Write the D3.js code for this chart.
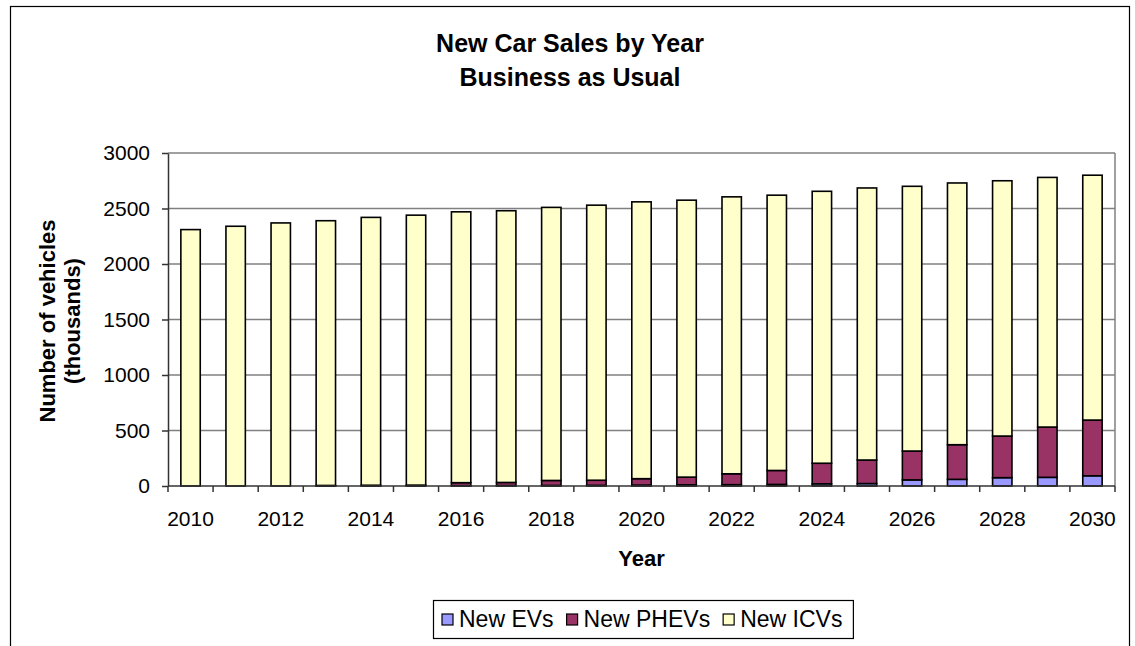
<!DOCTYPE html>
<html>
<head>
<meta charset="utf-8">
<script src="https://cdn.jsdelivr.net/npm/d3@7"></script>
<style>
  html, body { margin: 0; padding: 0; background: #fff; }
  svg { display: block; font-family: Arial, "Liberation Sans", sans-serif; }
</style>
</head>
<body>
<svg id="chart" width="1135" height="646"></svg>
<script>
// New car sales (thousands) by year, business-as-usual scenario
const years = [2010, 2011, 2012, 2013, 2014, 2015, 2016, 2017, 2018, 2019, 2020,
               2021, 2022, 2023, 2024, 2025, 2026, 2027, 2028, 2029, 2030];
const newEVs   = [0, 0, 0, 1, 2, 2, 3, 4, 5, 6, 8, 10, 12, 14, 20, 22, 55, 60, 75, 78, 92];
const newPHEVs = [0, 0, 0, 4, 5, 6, 27, 28, 45, 46, 58, 70, 98, 126, 185, 212, 260, 312, 375, 453, 502];
const newICVs  = [2310, 2340, 2370, 2385, 2413, 2432, 2440, 2448, 2460, 2478, 2494,
                  2495, 2495, 2480, 2450, 2451, 2385, 2358, 2300, 2249, 2206];
const seriesNames = ["New EVs", "New PHEVs", "New ICVs"];
const seriesColors = ["#9999FF", "#993366", "#FFFFCC"];
const yTicks = [0, 500, 1000, 1500, 2000, 2500, 3000];
const xLabelYears = [2010, 2012, 2014, 2016, 2018, 2020, 2022, 2024, 2026, 2028, 2030];

const svg = d3.select("#chart");
const plot = { left: 168, right: 1115, top: 153, bottom: 486 };

// Outer chart frame
svg.append("rect")
  .attr("x", 10.5).attr("y", 6.5)
  .attr("width", 1119).attr("height", 700)
  .attr("fill", "none").attr("stroke", "#000").attr("stroke-width", 1.2);

// Scales
const x = d3.scaleBand()
  .domain(years)
  .range([plot.left, plot.right])
  .paddingInner(0.57)
  .paddingOuter(0.285);
const y = d3.scaleLinear().domain([0, 3000]).range([plot.bottom, plot.top]);

// Gridlines
svg.append("g")
  .selectAll("line")
  .data(yTicks.filter(v => v > 0))
  .join("line")
  .attr("x1", plot.left).attr("x2", plot.right)
  .attr("y1", d => y(d)).attr("y2", d => y(d))
  .attr("stroke", "#808080").attr("stroke-width", 1.5);

// Plot-area right edge
svg.append("line")
  .attr("x1", plot.right).attr("x2", plot.right)
  .attr("y1", plot.top).attr("y2", plot.bottom)
  .attr("stroke", "#808080").attr("stroke-width", 1.5);

// Stacked bars
const rows = years.map((yr, i) => ({
  year: yr,
  "New EVs": newEVs[i],
  "New PHEVs": newPHEVs[i],
  "New ICVs": newICVs[i]
}));
const stacked = d3.stack().keys(seriesNames)(rows);

svg.append("g")
  .selectAll("g")
  .data(stacked)
  .join("g")
  .attr("fill", (d, i) => seriesColors[i])
  .selectAll("rect")
  .data(d => d)
  .join("rect")
  .attr("x", d => x(d.data.year))
  .attr("width", x.bandwidth())
  .attr("y", d => y(d[1]))
  .attr("height", d => y(d[0]) - y(d[1]))
  .attr("stroke", "#000")
  .attr("stroke-width", 1.6);

// Y axis
const yAxis = svg.append("g")
  .attr("transform", `translate(${plot.left},0)`)
  .call(d3.axisLeft(y).tickValues(yTicks).tickFormat(d3.format("d"))
    .tickSize(6).tickPadding(12).tickSizeOuter(0));
yAxis.select(".domain").attr("stroke", "#333").attr("stroke-width", 1.5);
yAxis.selectAll(".tick line").attr("stroke", "#333").attr("stroke-width", 1.5);
yAxis.selectAll(".tick text")
  .attr("font-size", 21).attr("font-family", "Arial, 'Liberation Sans', sans-serif")
  .attr("fill", "#000");

// X axis line and category boundary ticks
const step = x.step();
const boundaries = years.map(yr => x(yr) + x.bandwidth() / 2 - step / 2)
  .concat([x(years[years.length - 1]) + x.bandwidth() / 2 + step / 2]);
svg.append("line")
  .attr("x1", plot.left).attr("x2", plot.right)
  .attr("y1", plot.bottom).attr("y2", plot.bottom)
  .attr("stroke", "#333").attr("stroke-width", 1.5);
svg.append("g")
  .selectAll("line")
  .data(boundaries)
  .join("line")
  .attr("x1", d => d).attr("x2", d => d)
  .attr("y1", plot.bottom).attr("y2", plot.bottom + 6)
  .attr("stroke", "#333").attr("stroke-width", 1.5);
svg.append("g")
  .selectAll("text")
  .data(xLabelYears)
  .join("text")
  .attr("x", d => x(d) + x.bandwidth() / 2)
  .attr("y", 526)
  .attr("text-anchor", "middle")
  .attr("font-size", 21)
  .text(d => d);

// Titles
const title = svg.append("g").attr("font-weight", "bold").attr("font-size", 25).attr("text-anchor", "middle");
title.append("text").attr("x", 570).attr("y", 52).text("New Car Sales by Year");
title.append("text").attr("x", 570).attr("y", 86).text("Business as Usual");

svg.append("text")
  .attr("x", (plot.left + plot.right) / 2).attr("y", 566)
  .attr("text-anchor", "middle").attr("font-weight", "bold").attr("font-size", 22)
  .text("Year");

const yTitle = svg.append("g").attr("font-weight", "bold").attr("font-size", 22).attr("text-anchor", "middle");
yTitle.append("text").attr("transform", "translate(55,321) rotate(-90)").text("Number of vehicles");
yTitle.append("text").attr("transform", "translate(80,321) rotate(-90)").text("(thousands)");

// Legend
const legend = svg.append("g");
const legendBox = legend.append("rect")
  .attr("x", 433.5).attr("y", 600.5).attr("height", 38)
  .attr("fill", "#fff").attr("stroke", "#000").attr("stroke-width", 1.2);
let lx = 442;
seriesNames.forEach((name, i) => {
  legend.append("rect")
    .attr("x", lx).attr("y", 614).attr("width", 11).attr("height", 11)
    .attr("fill", seriesColors[i]).attr("stroke", "#000").attr("stroke-width", 1.2);
  const t = legend.append("text")
    .attr("x", lx + 17).attr("y", 627)
    .attr("font-size", 23)
    .text(name);
  lx = lx + 17 + t.node().getComputedTextLength() + 13;
});
legendBox.attr("width", lx - 13 + 11 - 433.5);
</script>
</body>
</html>
